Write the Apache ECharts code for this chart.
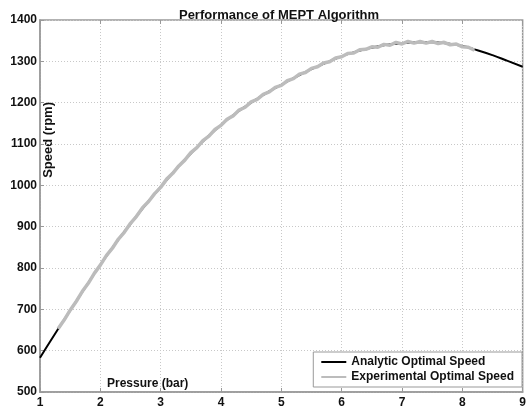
<!DOCTYPE html>
<html><head><meta charset="utf-8">
<script src="https://cdn.jsdelivr.net/npm/echarts@6/dist/echarts.min.js"></script>
<style>html,body{margin:0;padding:0;background:#fff}#c{width:529px;height:411px}</style>
</head><body><div id="c"></div>
<script>
const titleText = 'Performance of MEPT Algorithm';
const xName = 'Pressure (bar)';
const yName = 'Speed (rpm)';
const seriesNames = ['Analytic Optimal Speed', 'Experimental Optimal Speed'];
const xTicks = [1, 2, 3, 4, 5, 6, 7, 8, 9];
const yTicks = [500, 600, 700, 800, 900, 1000, 1100, 1200, 1300, 1400];

const analyticX = [1.00,1.25,1.50,1.75,2.00,2.25,2.50,2.75,3.00,3.25,3.50,3.75,4.00,4.25,4.50,4.75,5.00,5.25,5.50,5.75,6.00,6.25,6.50,6.75,7.00,7.25,7.50,7.75,8.00,8.25,8.50,8.75,9.00];
const analyticY = [583,641,697,753,808,859,907,953,996,1038,1077,1113,1146,1175,1200,1223,1243,1263,1281,1297,1312,1324,1333,1340,1344,1346,1346,1343,1337,1327,1315,1301,1287];

const expX = [1.3,1.4,1.5,1.6,1.7,1.8,1.9,2.0,2.1,2.2,2.3,2.4,2.5,2.6,2.7,2.8,2.9,3.0,3.1,3.2,3.3,3.4,3.5,3.6,3.7,3.8,3.9,4.0,4.1,4.2,4.3,4.4,4.5,4.6,4.7,4.8,4.9,5.0,5.1,5.2,5.3,5.4,5.5,5.6,5.7,5.8,5.9,6.0,6.1,6.2,6.3,6.4,6.5,6.6,6.7,6.8,6.9,7.0,7.1,7.2,7.3,7.4,7.5,7.6,7.7,7.8,7.9,8.0,8.1,8.2];
const expY = [653,674,698,719,743,763,787,807,830,848,870,887,908,925,946,961,980,995,1015,1029,1047,1061,1079,1091,1108,1119,1135,1145,1160,1168,1182,1189,1202,1208,1220,1226,1237,1242,1253,1258,1269,1273,1283,1287,1296,1299,1308,1311,1319,1320,1328,1329,1335,1334,1341,1339,1346,1342,1348,1344,1348,1344,1348,1343,1346,1340,1342,1335,1334,1327];

const zip = (a, b) => a.map((v, i) => [v, b[i]]);
const font = 'Liberation Sans, Arial, sans-serif';

const chart = echarts.init(document.getElementById('c'), null, {renderer: 'canvas'});
chart.setOption({
  animation: false,
  backgroundColor: '#fff',
  title: {
    text: titleText, left: 274, textAlign: 'center', top: 4,
    textStyle: {fontFamily: font, fontSize: 13, fontWeight: 'bold', color: '#111'}
  },
  grid: {left: 40, right: 1, top: 20, bottom: 19, show: true, borderColor: '#999', borderWidth: 1.5, backgroundColor: '#fff'},
  xAxis: [{
    type: 'value', min: xTicks[0], max: xTicks[xTicks.length - 1], interval: 1,
    axisLine: {show: true, lineStyle: {color: '#999', width: 1.5}},
    axisTick: {show: true, inside: true, length: 4, lineStyle: {color: '#999'}},
    axisLabel: {color: '#111', fontFamily: font, fontSize: 12, fontWeight: 'bold', margin: 5, showMaxLabel: true, showMinLabel: true},
    splitLine: {show: true, lineStyle: {color: '#c8c8c8', type: [1, 2], width: 1}}
  }, {
    type: 'value', position: 'top', min: xTicks[0], max: xTicks[xTicks.length - 1], interval: 1,
    axisLine: {show: false}, axisLabel: {show: false}, splitLine: {show: false},
    axisTick: {show: true, inside: true, length: 4, lineStyle: {color: '#999'}}
  }],
  yAxis: {
    type: 'value', min: yTicks[0], max: yTicks[yTicks.length - 1], interval: 100,
    axisLine: {show: true, lineStyle: {color: '#999', width: 1.5}},
    axisTick: {show: true, inside: true, length: 4, lineStyle: {color: '#999'}},
    axisLabel: {color: '#111', fontFamily: font, fontSize: 12, fontWeight: 'bold', margin: 3, formatter: v => String(v)},
    splitLine: {show: true, lineStyle: {color: '#c8c8c8', type: [1, 2], width: 1}}
  },
  legend: {
    orient: 'vertical', right: 7, bottom: 24,
    data: seriesNames,
    icon: 'rect', itemWidth: 25, itemHeight: 2, itemGap: 1,
    padding: [3, 8, 3, 8],
    backgroundColor: '#fff', borderColor: '#999', borderWidth: 1,
    textStyle: {fontFamily: font, fontSize: 12, fontWeight: 'bold', color: '#111', lineHeight: 14}
  },
  graphic: [
    {type: 'text', left: 42, top: 102, rotation: Math.PI / 2, style: {text: yName, font: 'bold 13px ' + font, fill: '#111'}},
    {type: 'text', left: 107, top: 378, style: {text: xName, font: 'bold 12px ' + font, fill: '#111'}}
  ],
  series: [
    {name: seriesNames[0], type: 'line', data: zip(analyticX, analyticY), smooth: true, showSymbol: false,
     lineStyle: {color: '#000', width: 2}, itemStyle: {color: '#000'}, z: 2},
    {name: seriesNames[1], type: 'line', data: zip(expX, expY), smooth: false, showSymbol: false,
     lineStyle: {color: '#bcbcbc', width: 3.5}, itemStyle: {color: '#bcbcbc'}, z: 3}
  ]
});
</script></body></html>
